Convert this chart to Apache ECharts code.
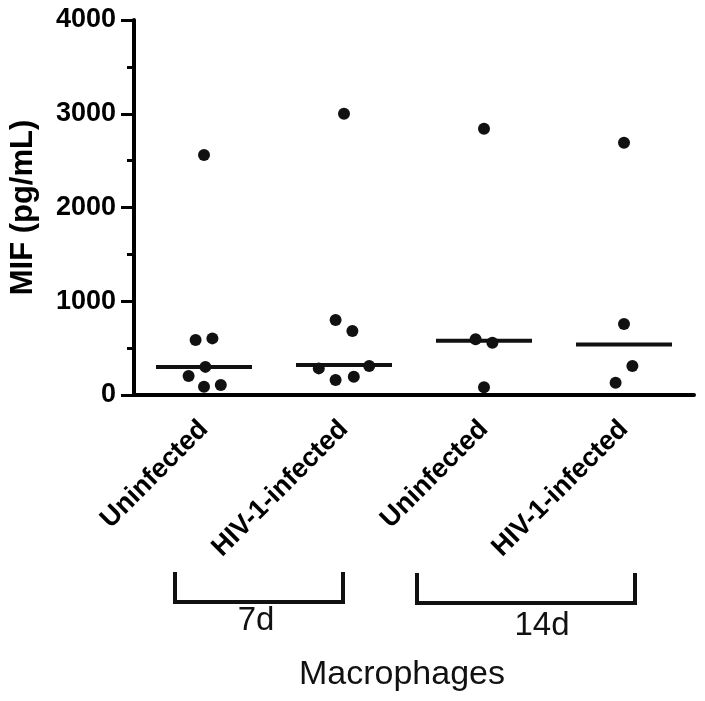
<!DOCTYPE html>
<html>
<head>
<meta charset="utf-8">
<script src="https://cdn.jsdelivr.net/npm/echarts@6/dist/echarts.min.js"></script>
<style>html,body{margin:0;padding:0;background:#fff;}#c{width:705px;height:701px;}</style>
</head>
<body>
<div id="c"></div>
<script>
// Categories (x-axis tick labels)
const categories = ['Uninfected', 'HIV-1-infected', 'Uninfected', 'HIV-1-infected'];
// Individual MIF values (pg/mL) per group
const g1Values = [2560, 587, 604, 300, 203, 89, 107];
const g2Values = [3000, 800, 683, 284, 309, 160, 195];
const g3Values = [2840, 594, 558, 82];
const g4Values = [2690, 757, 309, 131];
// Horizontal jitter of each point, as a fraction of one category width
const g1Jitter = [0, -0.06, 0.06, 0.01, -0.11, 0.0, 0.12];
const g2Jitter = [0, -0.06, 0.06, -0.18, 0.18, -0.06, 0.07];
const g3Jitter = [0, -0.06, 0.06, 0];
const g4Jitter = [0, 0, 0.06, -0.06];
// Median per group
const medians = [300, 320, 578, 540];
// Y ticks
const yMin = 0, yMax = 4000, yInterval = 1000;

const groups = [
  [g1Values, g1Jitter],
  [g2Values, g2Jitter],
  [g3Values, g3Jitter],
  [g4Values, g4Jitter]
];
const points = [];
groups.forEach(function (g, gi) {
  g[0].forEach(function (v, i) { points.push([gi + g[1][i], v]); });
});
const medianData = medians.map(function (m, i) { return [i, m]; });

const FONT = "'Liberation Sans', Arial, sans-serif";
const chart = echarts.init(document.getElementById('c'), null, {renderer: 'canvas'});
chart.setOption({
  animation: false,
  backgroundColor: '#fff',
  grid: {left: 131, right: 11, top: 20, bottom: 306},
  xAxis: [{
    type: 'category',
    data: categories,
    boundaryGap: true,
    axisLine: {lineStyle: {color: '#000', width: 4}},
    axisTick: {alignWithLabel: true, length: 11, lineStyle: {color: '#000', width: 4}},
    axisLabel: {rotate: 45, margin: 30, color: '#000', fontFamily: FONT, fontWeight: 'bold', fontSize: 27, interval: 0},
    splitLine: {show: false}
  }, {
    type: 'value',
    min: -0.5, max: 3.5,
    show: false
  }],
  yAxis: {
    type: 'value',
    min: yMin, max: yMax, interval: yInterval,
    axisLine: {show: true, onZero: false, lineStyle: {color: '#000', width: 4}},
    axisTick: {show: true, length: 13, lineStyle: {color: '#000', width: 3}},
    minorTick: {show: true, splitNumber: 2, length: 7, lineStyle: {color: '#000', width: 3}},
    axisLabel: {margin: 18, color: '#000', fontFamily: FONT, fontWeight: 'bold', fontSize: 27,
      formatter: function (v) { return String(v); }},
    splitLine: {show: false},
    name: 'MIF (pg/mL)',
    nameLocation: 'middle',
    nameGap: 95,
    nameTextStyle: {color: '#000', fontFamily: FONT, fontWeight: 'bold', fontSize: 31}
  },
  series: [{
    type: 'scatter',
    xAxisIndex: 1,
    data: points,
    symbol: 'circle',
    symbolSize: 12,
    itemStyle: {color: '#111', opacity: 1}
  }, {
    type: 'scatter',
    xAxisIndex: 1,
    data: medianData,
    symbol: 'rect',
    symbolSize: [96, 4],
    itemStyle: {color: '#111', opacity: 1},
    z: 1
  }],
  graphic: [
    {type: 'polyline', shape: {points: [[175, 572], [175, 602], [343, 602], [343, 572]]},
     style: {stroke: '#111', lineWidth: 4, fill: null}},
    {type: 'polyline', shape: {points: [[417, 573], [417, 603], [635, 603], [635, 573]]},
     style: {stroke: '#111', lineWidth: 4, fill: null}},
    {type: 'text', x: 256, y: 621, style: {text: '7d', font: "33px 'Liberation Sans', Arial, sans-serif", fill: '#111', align: 'center', verticalAlign: 'middle'}},
    {type: 'text', x: 542, y: 626, style: {text: '14d', font: "33px 'Liberation Sans', Arial, sans-serif", fill: '#111', align: 'center', verticalAlign: 'middle'}},
    {type: 'text', x: 402, y: 675, style: {text: 'Macrophages', font: "34px 'Liberation Sans', Arial, sans-serif", fill: '#111', align: 'center', verticalAlign: 'middle'}}
  ]
});
</script>
</body>
</html>
